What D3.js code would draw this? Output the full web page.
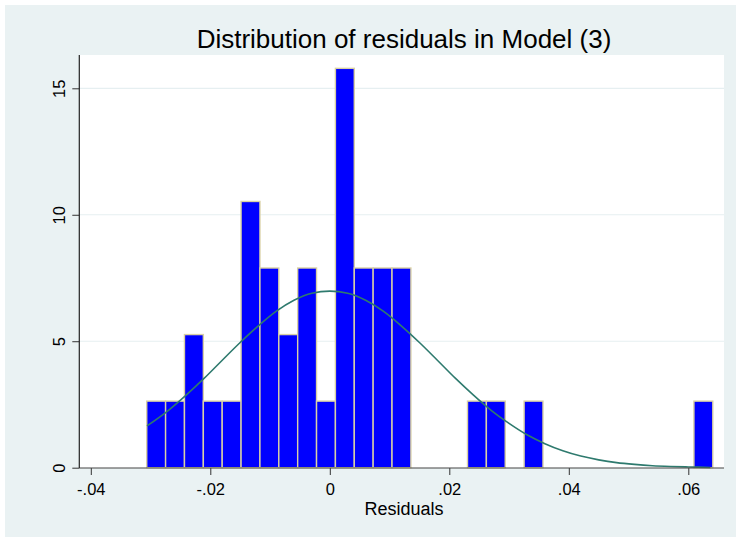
<!DOCTYPE html>
<html>
<head>
<meta charset="utf-8">
<script src="https://cdn.jsdelivr.net/npm/d3@7"></script>
<style>
  html, body { margin: 0; padding: 0; background: #ffffff; }
  svg { display: block; font-family: "Liberation Sans", Arial, Helvetica, sans-serif; }
</style>
</head>
<body>
<svg id="chart" width="736" height="537"></svg>
<script>
// Histogram of residuals (percent per bin), 30 equal-width bins
const binStart = -0.03064;
const binWidth = 0.003158;
const binPercent = [
  2.632, 2.632, 5.263, 2.632, 2.632, 10.526, 7.895, 5.263, 7.895, 2.632,
  15.789, 7.895, 7.895, 7.895, 0, 0, 0, 2.632, 2.632, 0,
  2.632, 0, 0, 0, 0, 0, 0, 0, 0, 2.632
];

// Fitted normal density overlay, in percent units
const curveX = [
  -0.0306, -0.027, -0.024, -0.021, -0.018, -0.015, -0.012, -0.009, -0.006, -0.003,
  0, 0.003, 0.006, 0.009, 0.012, 0.015, 0.018, 0.021, 0.024, 0.027,
  0.030, 0.033, 0.036, 0.039, 0.042, 0.045, 0.048, 0.051, 0.054, 0.057, 0.060, 0.0637
];
const curveY = [
  1.65, 2.27, 2.88, 3.54, 4.25, 4.95, 5.60, 6.18, 6.62, 6.90,
  6.98, 6.90, 6.62, 6.18, 5.60, 4.95, 4.25, 3.54, 2.88, 2.27,
  1.75, 1.30, 0.95, 0.67, 0.46, 0.31, 0.20, 0.13, 0.08, 0.05, 0.03, 0.01
];

const xTickValues = [-0.04, -0.02, 0, 0.02, 0.04, 0.06];
const xTickLabels = ["-.04", "-.02", "0", ".02", ".04", ".06"];
const yTickValues = [0, 5, 10, 15];
const yTickLabels = ["0", "5", "10", "15"];

const titleText = "Distribution of residuals in Model (3)";
const xAxisTitle = "Residuals";

const svg = d3.select("#chart");

// Outer graph region
svg.append("rect")
  .attr("x", 5).attr("y", 5)
  .attr("width", 731).attr("height", 532)
  .attr("fill", "#eaf2f3");

// Plot region bounds
const plot = { left: 79.3, right: 724, top: 55, bottom: 468 };

const x = d3.scaleLinear().domain([-0.04, 0.06]).range([90.8, 688.3]);
const y = d3.scaleLinear().domain([0, 15]).range([467.7, 88.3]);

svg.append("rect")
  .attr("x", plot.left).attr("y", plot.top)
  .attr("width", plot.right - plot.left).attr("height", plot.bottom - plot.top)
  .attr("fill", "#ffffff");

// Horizontal grid lines
svg.append("g")
  .selectAll("line")
  .data(yTickValues.filter(v => v > 0))
  .join("line")
  .attr("x1", plot.left).attr("x2", plot.right)
  .attr("y1", d => y(d)).attr("y2", d => y(d))
  .attr("stroke", "#e6eff1")
  .attr("stroke-width", 1.2);

// Bars
const bins = binPercent.map((p, i) => ({
  x0: binStart + i * binWidth,
  x1: binStart + (i + 1) * binWidth,
  p
})).filter(b => b.p > 0);

svg.append("g")
  .selectAll("rect")
  .data(bins)
  .join("rect")
  .attr("x", d => x(d.x0))
  .attr("y", d => y(d.p))
  .attr("width", d => x(d.x1) - x(d.x0))
  .attr("height", d => y(0) - y(d.p))
  .attr("fill", "#0000ff")
  .attr("stroke", "#d9d0a4")
  .attr("stroke-width", 1.4);

// Normal density curve
const line = d3.line()
  .x((d, i) => x(curveX[i]))
  .y(d => y(d))
  .curve(d3.curveMonotoneX);

svg.append("path")
  .datum(curveY)
  .attr("d", line)
  .attr("fill", "none")
  .attr("stroke", "#2e7a6e")
  .attr("stroke-width", 1.6);

// X axis
const xAxis = d3.axisBottom(x)
  .tickValues(xTickValues)
  .tickFormat((d, i) => xTickLabels[i])
  .tickSize(7)
  .tickSizeOuter(0);

const gx = svg.append("g")
  .attr("transform", `translate(0,${plot.bottom})`)
  .call(xAxis);
gx.select(".domain").remove();
gx.append("line")
  .attr("x1", plot.left).attr("x2", plot.right)
  .attr("y1", 0).attr("y2", 0)
  .attr("stroke", "#444").attr("stroke-width", 1.2);
gx.selectAll(".tick line").attr("stroke", "#333").attr("stroke-width", 1);
gx.selectAll(".tick text")
  .attr("y", 27).attr("dy", 0)
  .attr("fill", "#000")
  .style("font-size", "16.5px")
  .style("font-family", "'Liberation Sans', Arial, sans-serif");

// Y axis
const yAxis = d3.axisLeft(y)
  .tickValues(yTickValues)
  .tickFormat((d, i) => yTickLabels[i])
  .tickSize(7)
  .tickSizeOuter(0);

const gy = svg.append("g")
  .attr("transform", `translate(${plot.left},0)`)
  .call(yAxis);
gy.select(".domain").remove();
gy.append("line")
  .attr("x1", 0).attr("x2", 0)
  .attr("y1", plot.top).attr("y2", plot.bottom)
  .attr("stroke", "#222").attr("stroke-width", 1.2);
gy.selectAll(".tick line").attr("stroke", "#333").attr("stroke-width", 1);
gy.selectAll(".tick text")
  .attr("x", 0).attr("dy", 0)
  .attr("transform", "translate(-14,0) rotate(-90)")
  .attr("text-anchor", "middle")
  .attr("fill", "#000")
  .style("font-size", "16.5px")
  .style("font-family", "'Liberation Sans', Arial, sans-serif");

// Titles
svg.append("text")
  .attr("x", 404).attr("y", 48)
  .attr("text-anchor", "middle")
  .attr("fill", "#000")
  .style("font-size", "26px")
  .text(titleText);

svg.append("text")
  .attr("x", 404).attr("y", 515)
  .attr("text-anchor", "middle")
  .attr("fill", "#000")
  .style("font-size", "18px")
  .text(xAxisTitle);
</script>
</body>
</html>
